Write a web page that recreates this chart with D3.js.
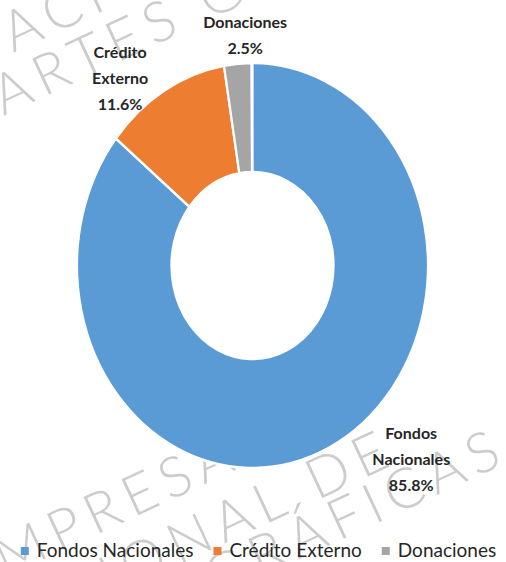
<!DOCTYPE html>
<html>
<head>
<meta charset="utf-8">
<script src="https://cdn.jsdelivr.net/npm/d3@7/dist/d3.min.js"></script>
<style>
  html, body { margin: 0; padding: 0; background: #ffffff; }
  svg { display: block; }
</style>
</head>
<body>
<script>
// ---- Data ----
const categories = ["Fondos Nacionales", "Crédito Externo", "Donaciones"];
const values = [85.8, 11.6, 2.5];
const valueLabels = ["85.8%", "11.6%", "2.5%"];
const labelLines = [["Fondos", "Nacionales"], ["Crédito", "Externo"], ["Donaciones"]];
const colors = ["#5B9BD5", "#ED7D31", "#A5A5A5"];
const watermarkLines = ["IMPRESA", "NACIONAL DE", "ARTES GRÁFICAS"];

// ---- Layout ----
const W = 506, H = 562;
const cx = 252.5, cy = 265.5;
const Ry = 202.5, Rx = 175.5;
const innerRatio = 93.5 / 202.5;
const labelOffsets = [[83, -9], [-44, -32.5], [7.5, -36]];
const lineH = 26;

const svg = d3.select("body").append("svg")
  .attr("width", W).attr("height", H)
  .attr("viewBox", `0 0 ${W} ${H}`);

// ---- Watermark (behind) ----
const wm = svg.append("g").attr("transform", "rotate(-25)")
  .attr("fill", "#cccccc")
  .style("font-family", "Lato, 'DejaVu Sans', sans-serif")
  .style("font-weight", 300)
  .style("font-size", "56px")
  .style("letter-spacing", "8px");
const wmBlocks = [
  {lines: [1, 2], x: [-61, -46], y: [32, 85]},
  {lines: [0, 1, 2], x: [-262, -292, -285], y: [504, 566, 612]}
];
wmBlocks.forEach(b => {
  b.lines.forEach((li, k) => {
    wm.append("text")
      .attr("x", b.x[k]).attr("y", b.y[k])
      .attr("dominant-baseline", "central")
      .text(watermarkLines[li]);
  });
});

// ---- Donut ----
const pie = d3.pie().sort(null).value(d => d)
  .startAngle(0).endAngle(2 * Math.PI * d3.sum(values) / 100);
const arcs = pie(values);
const arc = d3.arc().innerRadius(Ry * innerRatio).outerRadius(Ry);

const g = svg.append("g")
  .attr("transform", `translate(${cx},${cy}) scale(${Rx / Ry},1)`);
g.selectAll("path").data(arcs).join("path")
  .attr("d", arc)
  .attr("fill", (d, i) => colors[i])
  .attr("stroke", "#ffffff")
  .attr("stroke-width", 2.6)
  .attr("stroke-linejoin", "miter");

// ---- Data labels ----
const lab = svg.append("g")
  .style("font-family", "Lato, 'Open Sans', sans-serif")
  .style("font-weight", 700)
  .style("font-size", "16px")
  .attr("fill", "#262626")
  .attr("text-anchor", "middle");
arcs.forEach((a, i) => {
  const mid = (a.startAngle + a.endAngle) / 2;
  const ax = cx + Math.sin(mid) * Rx;
  const ay = cy - Math.cos(mid) * Ry;
  const x = ax + labelOffsets[i][0];
  const y0 = ay + labelOffsets[i][1];
  const lines = labelLines[i].concat([valueLabels[i]]);
  const t = lab.append("text");
  lines.forEach((ln, k) => {
    t.append("tspan").attr("x", x).attr("y", y0 + k * lineH).text(ln);
  });
});

// ---- Legend ----
const leg = svg.append("g")
  .style("font-family", "Lato, 'Open Sans', sans-serif")
  .style("font-size", "19px")
  .attr("fill", "#262626");
const sq = 8, gapSq = 8, gapItem = 20, legY = 557;
const items = categories.map((c, i) => {
  const ig = leg.append("g");
  ig.append("rect").attr("width", sq).attr("height", sq)
    .attr("y", legY - 10).attr("fill", colors[i]);
  const tx = ig.append("text").attr("x", sq + gapSq).attr("y", legY).text(c);
  const w = tx.node().getComputedTextLength();
  return {g: ig, w: sq + gapSq + w};
});
const total = d3.sum(items, d => d.w) + gapItem * (items.length - 1);
let xPos = 258.5 - total / 2;
items.forEach(it => {
  it.g.attr("transform", `translate(${xPos},0)`);
  xPos += it.w + gapItem;
});
</script>
</body>
</html>
